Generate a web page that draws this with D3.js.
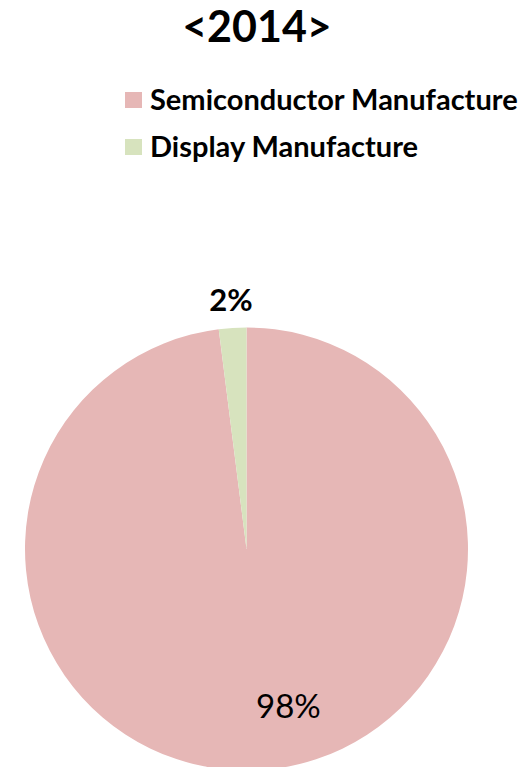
<!DOCTYPE html>
<html><head><meta charset="utf-8">
<script src="https://cdn.jsdelivr.net/npm/d3@7"></script>
<style>html,body{margin:0;padding:0;background:#fff;}svg{display:block;}</style>
</head><body>
<svg id="chart" width="531" height="767"></svg>
<script>
const title = "<2014>";
const categories = ["Semiconductor Manufacture", "Display Manufacture"];
const values = [98, 2];
const colors = ["#E6B7B6", "#D7E3BE"];
const labels = ["98%", "2%"];

const W = 531, H = 767;
const svg = d3.select("#chart");
const font = "Lato, 'Open Sans', sans-serif";

svg.append("text").attr("x", 257).attr("y", 42).attr("text-anchor", "middle")
  .attr("font-family", font).attr("font-weight", 700).attr("font-size", 43)
  .attr("fill", "#000").text(title);

const leg = svg.append("g");
categories.forEach((c, i) => {
  const y = 92 + i * 47;
  leg.append("rect").attr("x", 125).attr("y", y).attr("width", 17).attr("height", 16).attr("fill", colors[i]);
  leg.append("text").attr("x", 150).attr("y", y + 18).attr("font-family", font).attr("font-weight", 700)
    .attr("font-size", 29).attr("fill", "#000").text(c);
});

const cx = 246.5, cy = 549, R = 221.5;
const pie = d3.pie().sort(null).value(d => d)(values);
const arc = d3.arc().innerRadius(0).outerRadius(R);
const g = svg.append("g").attr("transform", `translate(${cx},${cy})`);
g.selectAll("path").data(pie).join("path").attr("d", arc).attr("fill", (d, i) => colors[i]);

const inArc = d3.arc().innerRadius(R * 0.71).outerRadius(R * 0.71);
const outArc = d3.arc().innerRadius(R + 28).outerRadius(R + 28);
g.selectAll("text.lbl").data(pie).join("text").attr("class", "lbl")
  .attr("transform", (d, i) => {
    const [x, y] = i === 0 ? inArc.centroid(d) : outArc.centroid(d);
    return `translate(${i === 0 ? x + 32 : x},${y})`;
  })
  .attr("text-anchor", "middle").attr("dy", "0.35em")
  .attr("font-family", font).attr("font-weight", (d, i) => i === 0 ? 400 : 700)
  .attr("font-size", (d, i) => i === 0 ? 33 : 31).attr("fill", "#000")
  .text((d, i) => labels[i]);
</script>
</body></html>
